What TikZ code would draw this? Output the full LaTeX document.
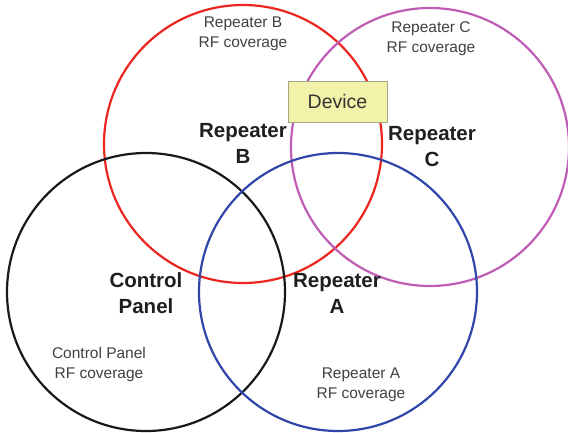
\documentclass[tikz,border=0pt]{standalone}
\usepackage{fontspec}
\setmainfont{Liberation Sans}
\definecolor{rptred}{RGB}{234,38,30}
\definecolor{rptmag}{RGB}{190,92,182}
\definecolor{rptblue}{RGB}{48,70,168}
\definecolor{devfill}{RGB}{242,242,170}
\definecolor{devline}{RGB}{165,165,140}
\begin{document}
\begin{tikzpicture}[x=1pt, y=-1pt,
  zone/.style={circle, draw, line width=2.2pt, minimum size=278pt, inner sep=0pt},
  cover/.style={align=center, text=black!75, font=\fontsize{15.5}{20}\selectfont},
  unit/.style={align=center, text=black!88, font=\fontsize{20.5}{26}\selectfont\bfseries}]

\useasboundingbox (0, 0) rectangle (568, 432);

\node (zoneB)[zone, rptred] at (243, 144) {};
\node (zoneC)[zone, rptmag] at (430, 147) {};
\node (zonePanel)[zone, black!90] at (146, 292) {};
\node (zoneA)[zone, rptblue] at (338, 292) {};

\node (device)[draw=devline, fill=devfill, line width=1pt, minimum width=99pt, minimum height=41pt,
  font=\fontsize{19.5}{24}\selectfont, text=black!80] at (337.5, 101.5) {Device};

\node (repB)[unit] at (243, 143) {Repeater\\B};
\node (repC)[unit] at (432, 147) {Repeater\\C};
\node (panel)[unit] at (146, 293.5) {Control\\Panel};
\node (repA)[unit] at (337, 293.5) {Repeater\\A};

\node (covB)[cover] at (243, 34) {Repeater B\\RF coverage};
\node (covC)[cover] at (431, 38.5) {Repeater C\\RF coverage};
\node (covPanel)[cover] at (99, 364) {Control Panel\\RF coverage};
\node (covA)[cover] at (361, 384.5) {Repeater A\\RF coverage};

\end{tikzpicture}
\end{document}
